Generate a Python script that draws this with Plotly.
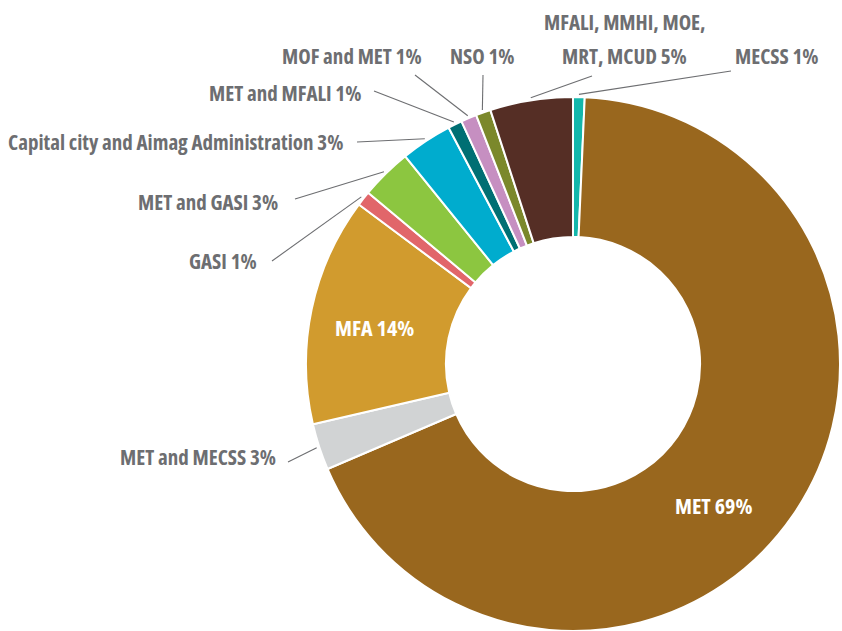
import numpy as np
import plotly.graph_objects as go

# ---- data (clockwise from 12 o'clock) ----
categories = ["MECSS", "MET", "MET and MECSS", "MFA", "GASI", "MET and GASI",
              "Capital city and Aimag Administration", "MET and MFALI",
              "MOF and MET", "NSO", "MFALI, MMHI, MOE,<br>MRT, MCUD"]
values = [0.7, 67.8, 2.8, 13.8, 0.9, 3.1, 3.1, 0.85, 0.95, 0.9, 5.0]
shown_pct = ["1%", "69%", "3%", "14%", "1%", "3%", "3%", "1%", "1%", "1%", "5%"]
colors = ["#14b7ab", "#99671e", "#d1d3d4", "#d19b2e", "#e1666a", "#8cc640",
          "#00acce", "#006f73", "#c68fc1", "#7b882b", "#552e25"]

W, H = 842, 631
CX, CY, R = 573, 364, 267
HOLE = 0.476
TXT = "#6d6e71"
FONT = "Open Sans"
FS_OUT, FS_IN = 21, 22
LINE_GAP = 34

# label layout (pixels): text anchor pos (last line), anchor mode, leader start (None = inside label)
layout_spec = [
    dict(pos=(733, 56), xa="left", lead=(731, 71)),
    dict(pos=(713, 505), xa="center", lead=None),
    dict(pos=(278, 457), xa="right", lead=(288, 462)),
    dict(pos=(374, 327), xa="center", lead=None),
    dict(pos=(259, 261), xa="right", lead=(272, 261)),
    dict(pos=(280, 202), xa="right", lead=(295, 199)),
    dict(pos=(345, 142), xa="right", lead=(357, 142)),
    dict(pos=(363, 93), xa="right", lead=(374, 91)),
    dict(pos=(352, 56), xa="center", lead=(415, 75)),
    dict(pos=(482, 56), xa="center", lead=(483, 75)),
    dict(pos=(624, 56), xa="center", lead=(592, 76)),
]

def px(x):
    return x / W

def py(y):
    return 1 - y / H

fig = go.Figure(go.Pie(
    labels=categories, values=values, sort=False, direction="clockwise",
    rotation=0, hole=HOLE, textinfo="none", hoverinfo="skip",
    marker=dict(colors=colors, line=dict(color="white", width=2)),
    domain=dict(x=[px(CX - R), px(CX + R)], y=[py(CY + R), py(CY - R)]),
    showlegend=False,
))

vals = np.array(values, dtype=float)
cum = np.cumsum(vals) / vals.sum() * 360.0
mid = cum - vals / vals.sum() * 360.0 / 2

shapes, annos = [], []
for i, (cat, pct, spec) in enumerate(zip(categories, shown_pct, layout_spec)):
    inside = spec["lead"] is None
    lines = f"{cat} {pct}".split("<br>")
    n = len(lines)
    for k, ln in enumerate(lines):
        yline = spec["pos"][1] - (n - 1 - k) * LINE_GAP
        annos.append(dict(
            x=px(spec["pos"][0]), y=py(yline), xref="paper", yref="paper",
            text=f'<span style="font-stretch:condensed">{ln}</span>',
            showarrow=False, xanchor=spec["xa"], yanchor="middle", align="center",
            font=dict(family=FONT, size=FS_IN if inside else FS_OUT,
                      color="white" if inside else TXT, weight="bold"),
        ))
    if not inside:
        a = np.deg2rad(mid[i])
        ex = CX + R * 1.01 * np.sin(a)
        ey = CY - R * 1.01 * np.cos(a)
        sx, sy = spec["lead"]
        shapes.append(dict(type="line", xref="paper", yref="paper",
                           x0=px(sx), y0=py(sy), x1=px(ex), y1=py(ey),
                           line=dict(color=TXT, width=1.1)))

fig.update_layout(
    width=W, height=H, margin=dict(l=0, r=0, t=0, b=0),
    paper_bgcolor="white", plot_bgcolor="white",
    shapes=shapes, annotations=annos,
)
fig.write_html("out.html")
